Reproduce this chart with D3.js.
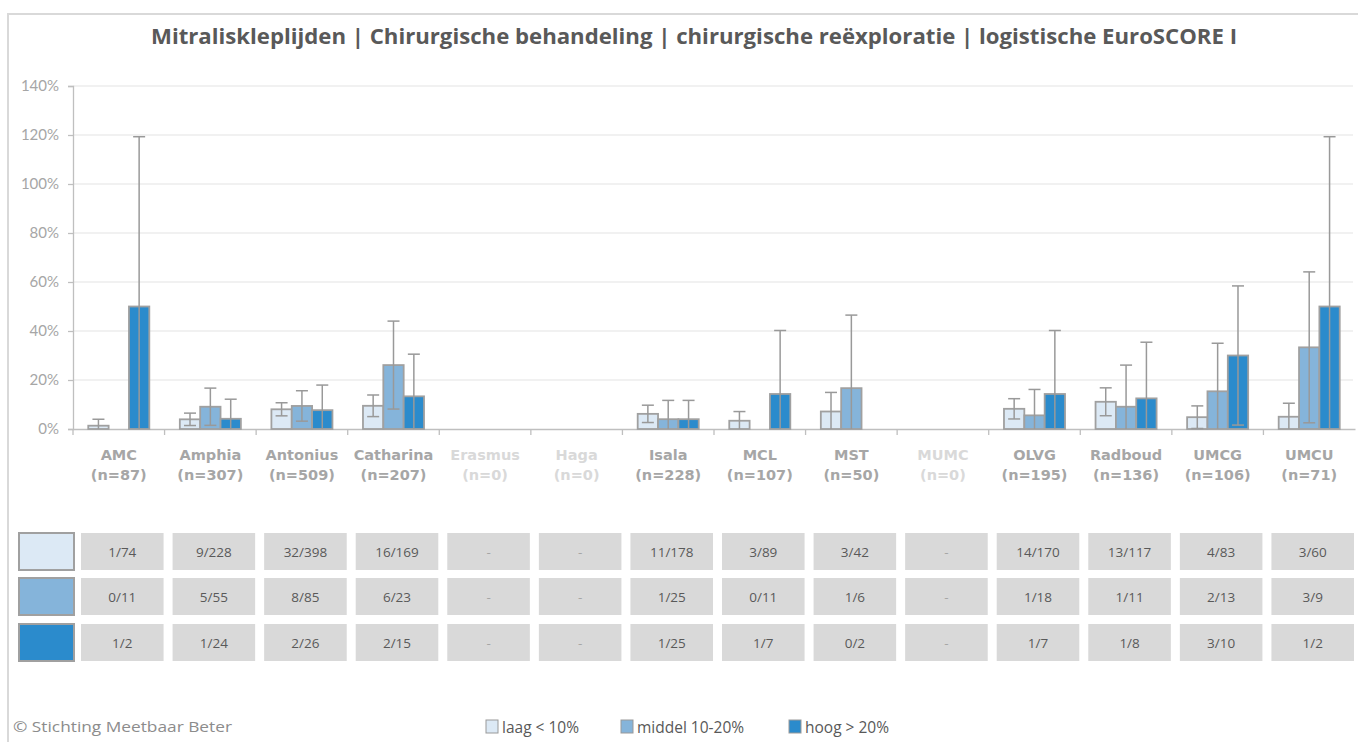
<!DOCTYPE html>
<html>
<head>
<meta charset="utf-8">
<script src="https://cdn.jsdelivr.net/npm/d3@7"></script>
<style>
  body { margin: 0; background: #fff; }
  svg { display: block; }
</style>
</head>
<body>
<script>
// categories
let hospitals = ['AMC', 'Amphia', 'Antonius', 'Catharina', 'Erasmus', 'Haga', 'Isala', 'MCL', 'MST', 'MUMC', 'OLVG', 'Radboud', 'UMCG', 'UMCU'];
let counts = [87, 307, 509, 207, 0, 0, 228, 107, 50, 0, 195, 136, 106, 71];

let series = ['laag', 'middel', 'hoog'];
let seriesLabels = ['laag < 10%', 'middel 10-20%', 'hoog > 20%'];
let colors = ['#dce9f5', '#85b4da', '#2b8bcc'];

// percentages (null = no data)
let laagPct   = [1.35, 3.95, 8.04, 9.47, null, null, 6.18, 3.37, 7.14, null, 8.24, 11.11, 4.82, 5.00];
let middelPct = [0, 9.09, 9.41, 26.09, null, null, 4.00, 0, 16.67, null, 5.56, 9.09, 15.38, 33.33];
let hoogPct   = [50, 4.17, 7.69, 13.33, null, null, 4.00, 14.29, 0, null, 14.29, 12.5, 30, 50];

// error bar lower / upper ends (%)
let laagLow    = [0, 1.42, 5.37, 5.06, null, null, 2.64, 0, 0, null, 4.10, 5.42, 0.21, 0];
let laagHigh   = [3.98, 6.48, 10.71, 13.88, null, null, 9.72, 7.12, 14.93, null, 12.37, 16.80, 9.43, 10.52];
let middelLow  = [0, 1.49, 3.20, 8.14, null, null, 0, 0, 0, null, 0, 0, 0, 2.53];
let middelHigh = [0, 16.69, 15.62, 44.04, null, null, 11.68, 0, 46.49, null, 16.14, 26.08, 35.0, 64.13];
let hoogLow    = [0, 0, 0, 0, null, null, 0, 0, 0, null, 0, 0, 1.60, 0];
let hoogHigh   = [119.3, 12.16, 17.93, 30.54, null, null, 11.68, 40.21, 0, null, 40.21, 35.42, 58.40, 119.3];

// table texts
let laagText   = ['1/74', '9/228', '32/398', '16/169', '-', '-', '11/178', '3/89', '3/42', '-', '14/170', '13/117', '4/83', '3/60'];
let middelText = ['0/11', '5/55', '8/85', '6/23', '-', '-', '1/25', '0/11', '1/6', '-', '1/18', '1/11', '2/13', '3/9'];
let hoogText   = ['1/2', '1/24', '2/26', '2/15', '-', '-', '1/25', '1/7', '0/2', '-', '1/7', '1/8', '3/10', '1/2'];

let yTicks = [0, 20, 40, 60, 80, 100, 120, 140];

let title = 'Mitraliskleplijden | Chirurgische behandeling | chirurgische reëxploratie | logistische EuroSCORE I';

let pct = [laagPct, middelPct, hoogPct];
let lows = [laagLow, middelLow, hoogLow];
let highs = [laagHigh, middelHigh, hoogHigh];
let texts = [laagText, middelText, hoogText];

let w = 1358, h = 742;

let svg = d3.select('body')
  .append('svg')
  .attr('width', w)
  .attr('height', h);

// outer frame
svg.append('rect')
  .attr('x', 8).attr('y', 14)
  .attr('width', w + 20).attr('height', h + 20)
  .attr('fill', 'none')
  .attr('stroke', '#d9d9d9')
  .attr('stroke-width', 2);

svg.append('text')
  .text(title)
  .attr('x', 151).attr('y', 44)
  .attr('textLength', 1086)
  .attr('lengthAdjust', 'spacingAndGlyphs')
  .style('font-family', '"Open Sans", sans-serif')
  .style('font-weight', 'bold')
  .style('font-size', '22px')
  .style('fill', '#595959');

let x = d3.scaleBand()
  .domain(hospitals)
  .range([73, 1355]);

let xSub = d3.scaleBand()
  .domain(series)
  .range([x.bandwidth() / 6, x.bandwidth() * 5 / 6]);

let y = d3.scaleLinear()
  .domain([0, 140])
  .range([429, 86]);

// gridlines
svg.append('g')
  .selectAll('line')
  .data(yTicks.slice(1))
  .enter()
  .append('line')
  .attr('x1', 73).attr('x2', 1353)
  .attr('y1', d => y(d)).attr('y2', d => y(d))
  .attr('stroke', '#e3e3e3')
  .attr('stroke-width', 1.2);

let yAxis = svg.append('g')
  .attr('transform', 'translate(73,0)')
  .call(d3.axisLeft(y).tickValues(yTicks).tickSize(5).tickPadding(9).tickFormat(d => d + '%'));
yAxis.select('.domain').attr('stroke', '#bfbfbf').attr('stroke-width', 1.3);
yAxis.selectAll('.tick line').attr('stroke', '#bfbfbf').attr('stroke-width', 1.3);
yAxis.selectAll('.tick text')
  .style('font-family', 'Lato, sans-serif')
  .style('font-size', '15px')
  .style('fill', '#a6a6a6');

// x axis line + ticks at category boundaries
let xAxis = svg.append('g')
  .attr('transform', 'translate(0,429)')
  .call(d3.axisBottom(x).tickSize(0).tickFormat(''));
xAxis.select('.domain').attr('stroke', '#bfbfbf').attr('stroke-width', 1.3);

svg.append('g')
  .selectAll('line')
  .data(hospitals)
  .enter()
  .append('line')
  .attr('x1', d => x(d)).attr('x2', d => x(d))
  .attr('y1', 429).attr('y2', 435)
  .attr('stroke', '#bfbfbf')
  .attr('stroke-width', 1.3);

// category labels
let labels = svg.append('g')
  .selectAll('text')
  .data(hospitals)
  .enter()
  .append('text')
  .attr('x', d => x(d) + x.bandwidth() / 2)
  .attr('y', 460)
  .attr('text-anchor', 'middle')
  .style('font-family', '"DejaVu Sans", sans-serif')
  .style('font-weight', 'bold')
  .style('font-size', '14.5px')
  .style('fill', (d, i) => counts[i] === 0 ? '#d9d9d9' : '#a6a6a6');
labels.append('tspan').text(d => d);
labels.append('tspan')
  .attr('x', d => x(d) + x.bandwidth() / 2)
  .attr('dy', 20)
  .text((d, i) => '(n=' + counts[i] + ')');

// bars
series.forEach((s, si) => {
  let g = svg.append('g');
  let rows = hospitals.map((d, i) => ({ name: d, v: pct[si][i], lo: lows[si][i], hi: highs[si][i] }))
    .filter(r => r.v !== null && r.v > 0);

  g.selectAll('rect')
    .data(rows)
    .enter()
    .append('rect')
    .attr('x', d => x(d.name) + xSub(s))
    .attr('y', d => y(d.v))
    .attr('width', xSub.bandwidth())
    .attr('height', d => y(0) - y(d.v))
    .attr('fill', colors[si])
    .attr('stroke', '#a0a0a0')
    .attr('stroke-width', 1.8);

  let eb = rows.filter(d => d.hi > 0);
  let cx = d => x(d.name) + xSub(s) + xSub.bandwidth() / 2;

  g.selectAll('line.err')
    .data(eb)
    .enter()
    .append('line')
    .attr('class', 'err')
    .attr('x1', cx).attr('x2', cx)
    .attr('y1', d => y(d.lo)).attr('y2', d => y(d.hi))
    .attr('stroke', '#999')
    .attr('stroke-width', 1.5);

  g.selectAll('line.capHi')
    .data(eb)
    .enter()
    .append('line')
    .attr('class', 'capHi')
    .attr('x1', d => cx(d) - 6).attr('x2', d => cx(d) + 6)
    .attr('y1', d => y(d.hi)).attr('y2', d => y(d.hi))
    .attr('stroke', '#999')
    .attr('stroke-width', 1.5);

  g.selectAll('line.capLo')
    .data(eb.filter(d => d.lo > 0))
    .enter()
    .append('line')
    .attr('class', 'capLo')
    .attr('x1', d => cx(d) - 6).attr('x2', d => cx(d) + 6)
    .attr('y1', d => y(d.lo)).attr('y2', d => y(d.lo))
    .attr('stroke', '#999')
    .attr('stroke-width', 1.5);
});

// table
let rowTop = [533, 578, 624];
let rowH = 37;

series.forEach((s, si) => {
  svg.append('rect')
    .attr('x', 19).attr('y', rowTop[si])
    .attr('width', 55).attr('height', rowH)
    .attr('fill', colors[si])
    .attr('stroke', '#a0a0a0')
    .attr('stroke-width', 2);

  let cells = svg.append('g')
    .selectAll('g')
    .data(hospitals)
    .enter()
    .append('g');

  cells.append('rect')
    .attr('x', d => x(d) + 8)
    .attr('y', rowTop[si])
    .attr('width', x.bandwidth() - 9)
    .attr('height', rowH)
    .attr('fill', '#d9d9d9');

  cells.append('text')
    .text((d, i) => texts[si][i])
    .attr('x', d => x(d) + 8 + (x.bandwidth() - 9) / 2)
    .attr('y', rowTop[si] + rowH / 2 + 5)
    .attr('text-anchor', 'middle')
    .style('font-family', '"Open Sans", sans-serif')
    .style('font-size', '13.5px')
    .style('fill', (d, i) => texts[si][i] === '-' ? '#a6a6a6' : '#595959');
});

// footer
svg.append('text')
  .text('© Stichting Meetbaar Beter')
  .attr('x', 13).attr('y', 732)
  .attr('textLength', 219)
  .attr('lengthAdjust', 'spacingAndGlyphs')
  .style('font-family', '"Open Sans", sans-serif')
  .style('font-size', '15px')
  .style('fill', '#8c8c8c');

// legend
let legX = [486, 621, 789];
let legend = svg.append('g')
  .selectAll('g')
  .data(series)
  .enter()
  .append('g');

legend.append('rect')
  .attr('x', (d, i) => legX[i]).attr('y', 720)
  .attr('width', 12).attr('height', 13)
  .attr('fill', (d, i) => colors[i])
  .attr('stroke', '#999')
  .attr('stroke-width', 1);

legend.append('text')
  .text((d, i) => seriesLabels[i])
  .attr('x', (d, i) => legX[i] + 16).attr('y', 733)
  .style('font-family', '"Open Sans", sans-serif')
  .style('font-size', '15.5px')
  .style('fill', '#595959');
</script>
</body>
</html>
